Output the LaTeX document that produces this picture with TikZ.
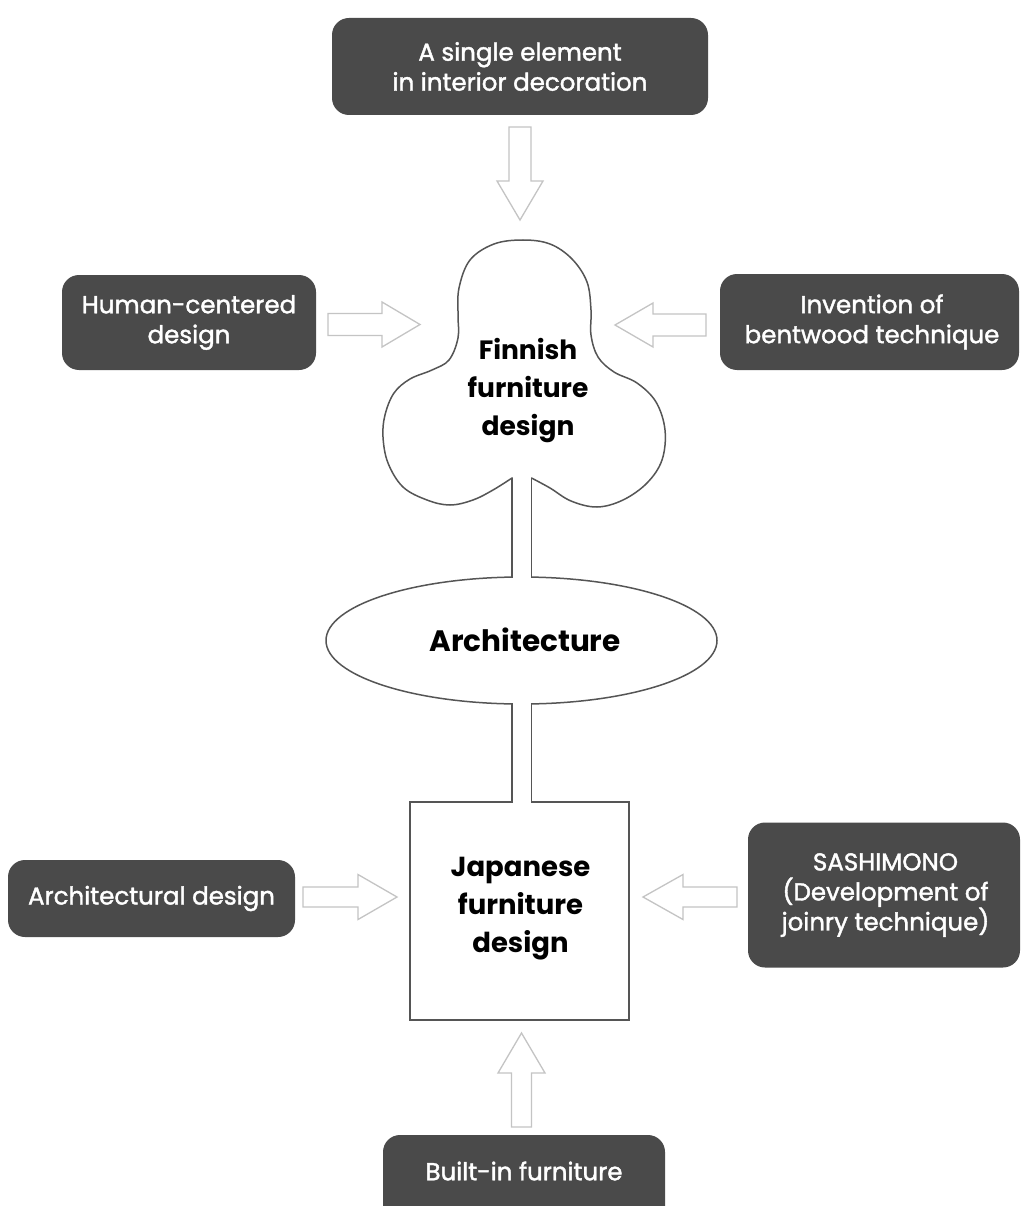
\documentclass[tikz,border=0pt]{standalone}
\usepackage{fontspec}
\setmainfont{Poppins}
\newfontfamily\boxfont{Poppins}[FakeBold=1.6]
\usetikzlibrary{shapes.geometric,calc}
\definecolor{boxgray}{HTML}{4A4A4A}
\definecolor{arrgray}{HTML}{C4C4C4}
\definecolor{linegray}{HTML}{555555}
\newcommand\hollowarrow[5]{%
  \coordinate (ha-b) at ($(#2)!#5!(#1)$);
  \draw[harrow] ($(#1)!#3!90:(#2)$) -- ($(ha-b)!#3!90:(#2)$) -- ($(ha-b)!#4!90:(#2)$) -- (#2)
    -- ($(ha-b)!#4!-90:(#2)$) -- ($(ha-b)!#3!-90:(#2)$) -- ($(#1)!#3!-90:(#2)$) -- cycle;}
\begin{document}
\begin{tikzpicture}[x=1pt,y=-1pt,
  box/.style={draw=none, fill=boxgray, rounded corners=17pt, text=white, align=center,
    font=\boxfont\fontsize{24.5}{30}\selectfont, inner sep=0pt, outer sep=0pt},
  harrow/.style={draw=arrgray, line width=1.3pt, fill=white, line join=miter},
  outl/.style={draw=linegray, line width=1.5pt, fill=white, outer sep=0pt, inner sep=0pt},
  ctext/.style={font=\fontsize{26.5}{38}\selectfont\bfseries, align=center, inner sep=0pt}]
\useasboundingbox (0,0) rectangle (1020,1206);
\fill[white] (0,0) rectangle (1020,1206);

% boxes
\node[box, minimum width=376pt, minimum height=97pt] (single) at (520,66.5) {A single element\\in interior decoration};
\node[box, minimum width=254pt, minimum height=95pt] (human) at (189,322.5) {Human-centered\\design};
\node[box, minimum width=299pt, minimum height=96pt] (bent) at (869.5,322) {};
\node[text=white, align=center, inner sep=0pt, font=\boxfont\fontsize{24.5}{30}\selectfont] (bentt) at (872,322) {Invention of\\bentwood technique};
\node[box, minimum width=272pt, minimum height=145pt] (sashi) at (884,895) {};
\node[text=white, align=center, inner sep=0pt, font=\boxfont\fontsize{24.5}{30}\selectfont] (sashit) at (885.5,895) {SASHIMONO\\(Development of\\joinry technique)};
\node[box, minimum width=287pt, minimum height=77pt] (archd) at (151.5,898.5) {Architectural design};
\node[box, minimum width=282pt, minimum height=96pt, anchor=north] (built) at (524,1135) {};
\node[text=white, font=\boxfont\fontsize{24.5}{30}\selectfont] (builtt) at (524,1171) {Built-in furniture};

% cloud (Finnish furniture design)
\coordinate (stemL) at (512,478);
\coordinate (stemR) at (531.5,478);
\draw[outl] plot[smooth, tension=0.6] coordinates {(512,478) (493,490) (473,500) (450,505) (427,500) (403,487) (388,463) (383,437) (385,415) (394,393) (410,379) (432,370) (449,360) (458,338) (458,315) (459,288) (470,260) (494,244) (523,240) (550,244) (572,259) (587,282) (591,310) (591,335) (598,357) (614,372) (637,383) (656,402) (665,430) (662,460) (647,483) (623,500) (597,507) (571,501) (550,488) (531.5,478)} -- cycle;

% ellipse and square
\node[outl, ellipse, minimum width=391pt, minimum height=127pt] (arch) at (521.5,640.5) {};
\node[outl, minimum width=219pt, minimum height=218pt] (jap) at (519.5,911) {};

% stems joining the three shapes
\fill[white] (513.2,470) rectangle (530.7,805);
\draw[draw=linegray, line width=1.5pt] (stemL) -- (512,577.2) (512,703.8) -- (stemL |- jap.north);
\draw[draw=linegray, line width=1.5pt] (stemR) -- (531.5,577.2) (531.5,703.8) -- (stemR |- jap.north);

% centre texts
\node[ctext] (finn) at (528,391) {Finnish\\furniture\\design};
\node[ctext, font=\fontsize{29.5}{38}\selectfont\bfseries] (archt) at (525,640) {Architecture};
\node[ctext, font=\fontsize{27.5}{38}\selectfont\bfseries] (japt) at (520.5,909) {Japanese\\furniture\\design};

% hollow arrows
\coordinate (a1s) at (520,127);   \coordinate (a1t) at (520,220);
\coordinate (a2s) at (328,324.5); \coordinate (a2t) at (420,324.5);
\coordinate (a3s) at (706,325);   \coordinate (a3t) at (615,325);
\coordinate (a4s) at (303,897);   \coordinate (a4t) at (397,897);
\coordinate (a5s) at (737,897);   \coordinate (a5t) at (643,897);
\coordinate (a6s) at (521.5,1127);\coordinate (a6t) at (521.5,1033);
\hollowarrow{a1s}{a1t}{11pt}{23pt}{39pt}
\hollowarrow{a2s}{a2t}{11pt}{22.5pt}{38pt}
\hollowarrow{a3s}{a3t}{11pt}{22pt}{38pt}
\hollowarrow{a4s}{a4t}{10pt}{22.5pt}{39pt}
\hollowarrow{a5s}{a5t}{10pt}{22.5pt}{40pt}
\hollowarrow{a6s}{a6t}{10pt}{23.5pt}{40pt}
\end{tikzpicture}
\end{document}
